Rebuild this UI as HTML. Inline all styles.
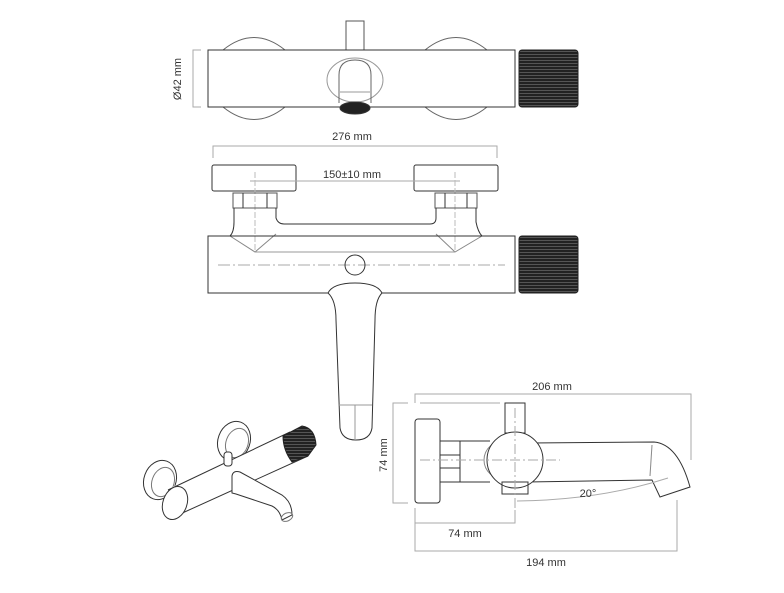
<!DOCTYPE html>
<html><head><style>body{margin:0;background:#fff}svg{display:block}text{font-family:"Liberation Sans",sans-serif;font-size:11px;fill:#333;stroke:none}</style></head><body>
<svg width="784" height="593" viewBox="0 0 784 593" fill="none" stroke="#333" stroke-width="1">
<defs><pattern id="k" width="4" height="3" patternUnits="userSpaceOnUse"><rect width="4" height="3" fill="#222" stroke="none"/><line x1="0" y1="0.5" x2="4" y2="0.5" stroke="#777" stroke-width="0.6"/></pattern></defs>
<!-- TOP VIEW -->
<path d="M223 50 Q254 25 285 50 M425 50 Q456 25 487 50 M223 107 Q254 132 285 107 M425 107 Q456 132 487 107" stroke="#666"/>
<rect x="346" y="21" width="18" height="29" stroke="#555"/>
<rect x="208" y="50" width="307" height="57" fill="#fff"/>
<rect x="519" y="50" width="59" height="57" rx="3" fill="url(#k)" stroke="#222"/>
<ellipse cx="355" cy="80" rx="28" ry="22" stroke="#999"/>
<path d="M339 103 V75 Q339 60 355 60 Q371 60 371 75 V103" stroke="#666"/>
<line x1="340" y1="92" x2="370" y2="92" stroke="#999"/>
<ellipse cx="355" cy="108" rx="15" ry="6" fill="#222"/>
<path d="M201 50 H193 V107 H201" stroke="#aaa"/>
<text x="181" y="79" transform="rotate(-90 181 79)" text-anchor="middle">Ø42 mm</text>
<!-- FRONT VIEW -->
<text x="352" y="140" text-anchor="middle">276 mm</text>
<path d="M213 158 V146 H497 V158" stroke="#aaa"/>
<rect x="212" y="165" width="84" height="26" rx="2" fill="#fff"/>
<rect x="414" y="165" width="84" height="26" rx="2" fill="#fff"/>
<text x="352" y="178" text-anchor="middle">150±10 mm</text>
<line x1="250" y1="181" x2="460" y2="181" stroke="#aaa"/>
<line x1="255" y1="172" x2="255" y2="250" stroke="#bbb" stroke-dasharray="6 2"/>
<line x1="455" y1="172" x2="455" y2="250" stroke="#bbb" stroke-dasharray="6 2"/>
<rect x="233" y="193" width="44" height="15" stroke="#555"/><line x1="243" y1="193" x2="243" y2="208"/><line x1="267" y1="193" x2="267" y2="208"/>
<rect x="435" y="193" width="42" height="15" stroke="#555"/><line x1="445" y1="193" x2="445" y2="208"/><line x1="467" y1="193" x2="467" y2="208"/>
<path d="M234 208 V222 Q234 232 230 236 M276 208 V218 Q278 224 284 224 H430 Q436 224 436 218 V208 M476 208 V222 Q478 232 482 236"/>
<path d="M230 236 L255 252 L276 234 M482 236 L455 252 L436 234" stroke="#888"/>
<rect x="208" y="236" width="307" height="57"/>
<line x1="255" y1="252" x2="455" y2="252" stroke="#999"/>
<line x1="218" y1="265" x2="505" y2="265" stroke="#aaa" stroke-dasharray="12 3 2 3"/>
<circle cx="355" cy="265" r="10"/>
<rect x="519" y="236" width="59" height="57" rx="3" fill="url(#k)" stroke="#222"/>
<path d="M328 293 Q333 283 355 283 Q377 283 382 293 Q375 300 375 320 L372 428 Q370 440 356 440 Q342 440 340 428 L336 320 Q336 300 328 293" fill="#fff"/>
<line x1="339" y1="405" x2="372" y2="405" stroke="#999"/><line x1="355" y1="405" x2="355" y2="440" stroke="#999"/>
<!-- SIDE VIEW -->
<text x="552" y="390" text-anchor="middle">206 mm</text>
<path d="M415 403 V394 H691 V460" stroke="#aaa"/>
<path d="M408 403 H393 V503 H408 M420 403 H500" stroke="#aaa"/>
<text x="387" y="455" transform="rotate(-90 387 455)" text-anchor="middle">74 mm</text>
<rect x="415" y="419" width="25" height="84" rx="3"/>
<rect x="440" y="441" width="20" height="41"/>
<line x1="440" y1="455" x2="460" y2="455"/><line x1="440" y1="468" x2="460" y2="468"/>
<rect x="505" y="403" width="20" height="30"/>
<path d="M460 441 H490 M460 482 H490 M530 443 L654 442 Q678 444 690 487 L660 497 L652 480 L527 482"/>
<line x1="652" y1="445" x2="650" y2="476" stroke="#888"/>
<ellipse cx="506" cy="460" rx="22" ry="20" stroke="#888"/>
<circle cx="515" cy="460" r="28" fill="#fff"/>
<rect x="502" y="482" width="26" height="12"/>
<line x1="420" y1="460" x2="560" y2="460" stroke="#aaa" stroke-dasharray="10 3 2 3"/>
<line x1="515" y1="408" x2="515" y2="520" stroke="#aaa" stroke-dasharray="10 3 2 3"/>
<path d="M517 501 Q600 500 668 478" stroke="#aaa"/>
<text x="588" y="497" text-anchor="middle">20°</text>
<path d="M415 508 V523 H515 V510" stroke="#aaa"/>
<text x="465" y="537" text-anchor="middle">74 mm</text>
<path d="M415 512 V551 H677 V500" stroke="#aaa"/>
<text x="546" y="566" text-anchor="middle">194 mm</text>
<!-- ISOMETRIC -->
<ellipse cx="160" cy="480" rx="16" ry="20" transform="rotate(20 160 480)"/>
<ellipse cx="163" cy="482" rx="11" ry="15" transform="rotate(20 163 482)" stroke="#777"/>
<ellipse cx="234" cy="441" rx="16" ry="20" transform="rotate(20 234 441)"/>
<ellipse cx="237" cy="443" rx="11" ry="15" transform="rotate(20 237 443)" stroke="#777"/>
<path d="M170 488 L290 432 L308 456 L180 517 Z" fill="#fff" stroke="none"/>
<path d="M168 490 L290 432 M178 515 L308 456" />
<path d="M283 436 L302 426 Q315 428 316 445 L308 456 L292 462 Q283 450 283 436" fill="url(#k)" stroke="#222"/>
<ellipse cx="175" cy="503" rx="12" ry="17" transform="rotate(20 175 503)" fill="#fff"/>
<path d="M232 493 L232 476 Q233 470 240 472 L282 495 Q292 502 292 515 L282 520 Q280 510 272 506 L236 494 Z" fill="#fff"/>
<ellipse cx="287" cy="517" rx="6" ry="4" transform="rotate(-25 287 517)" stroke="#777"/>
<rect x="224" y="452" width="8" height="14" rx="3" fill="#fff"/>
</svg></body></html>
